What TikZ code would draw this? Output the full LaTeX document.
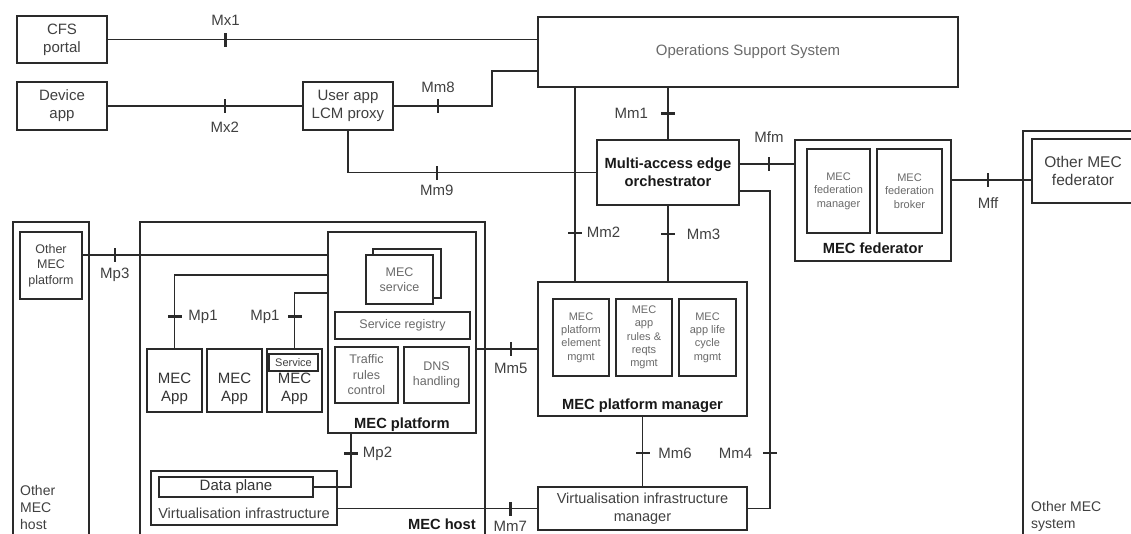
\documentclass[tikz,border=0pt]{standalone}
\usepackage{fontspec}
\setmainfont{Liberation Sans}
\usetikzlibrary{positioning}
\definecolor{ink}{HTML}{2A2A2A}
\definecolor{dtxt}{HTML}{404040}
\definecolor{ltxt}{HTML}{6A6A6A}
\begin{document}
\begin{tikzpicture}[x=1pt,y=-1pt,
    sz/.style 2 args={minimum width=#1pt,minimum height=#2pt},
    box/.style={draw=ink,line width=2.1pt,fill=white,inner sep=0pt,align=center,text=dtxt,font=\fontsize{15}{18}\selectfont},
    mbox/.style={box,text=ltxt,font=\fontsize{12.5}{15.5}\selectfont},
    sbox/.style={box,line width=2.4pt,text=ltxt,font=\fontsize{11}{13.3}\selectfont},
    hostbox/.style={draw=ink,line width=2.1pt,inner sep=0pt},
    hdr/.style={inner sep=0pt,text=black!90,font=\fontsize{14.7}{17}\selectfont\bfseries},
    lbl/.style={inner sep=1pt,text=dtxt,font=\fontsize{15}{18}\selectfont},
    tk/.style={fill=ink,inner sep=0pt,minimum width=2.4pt,minimum height=14pt,sloped},
    ln/.style={draw=ink,line width=1.9pt}]
\useasboundingbox (0,0) rectangle (1131,533);
\clip (0,0) rectangle (1131,533);
\node[box,sz={90}{47}] (cfs) at (62,39.5) {CFS\\portal};
\node[box,sz={90}{48}] (dev) at (62,106) {Device\\app};
\node[box,sz={90}{48}] (uap) at (348,106) {User app\\LCM proxy};
\node[box,sz={420}{70},text=ltxt] (oss) at (748,52) {Operations Support System};
\node[box,sz={142}{65},text=black!90,font=\fontsize{14.7}{18}\selectfont\bfseries] (meo) at (668,172.5) {Multi-access edge\\orchestrator};
\node[box,sz={156}{121}] (fed) at (873,200.5) {};
\node[sbox,sz={63}{84}] (fedm) at (838.5,191) {MEC\\federation\\manager};
\node[sbox,sz={65}{84}] (fedb) at (909.5,191) {MEC\\federation\\broker};
\node[hdr,above=8pt of fed.south] (fedt) {MEC federator};
\node[hostbox,sz={117}{420}] (oms) at (1081.5,341) {};
\node[box,sz={102}{64},font=\fontsize{15.5}{18}\selectfont] (omf) at (1083,171) {Other MEC\\federator};
\node[lbl,inner sep=0pt,align=left,anchor=north west,font=\fontsize{14}{17}\selectfont] (omst) at (1031,501) {Other MEC\\system};
\node[hostbox,sz={76}{330}] (omh) at (51,387) {};
\node[mbox,text=dtxt,sz={62}{67}] (omp) at (51,265.5) {Other\\MEC\\platform};
\node[lbl,inner sep=0pt,align=left,anchor=north west,font=\fontsize{14}{17}\selectfont] (omht) at (20,485) {Other\\MEC\\host};
\node[hostbox,sz={345}{330}] (host) at (312.5,387) {};
\node[hdr,anchor=east] (hostt) at (476,524.5) {MEC host};
\node[box,sz={148}{201}] (mp) at (402,332.5) {};
\node[box,line width=1.7pt,sz={68}{49}] (svcb) at (407,273.5) {};
\node[mbox,line width=1.7pt,sz={67}{49}] (svc) at (399.5,279.5) {MEC\\service};
\node[mbox,sz={135}{27}] (reg) at (402.5,325.5) {Service registry};
\node[mbox,sz={63}{56}] (trc) at (366.5,375) {Traffic\\rules\\control};
\node[mbox,sz={65}{56}] (dns) at (436.5,375) {DNS\\handling};
\node[hdr,above=2.7pt of mp.south] (mpt) {MEC platform};
\node[box,sz={55}{63},label={[lbl,text=black!80,align=center,yshift=-8.5pt]center:{MEC\\App}}] (app1) at (174.5,380.5) {};
\node[box,sz={55}{63},label={[lbl,text=black!80,align=center,yshift=-8.5pt]center:{MEC\\App}}] (app2) at (234.5,380.5) {};
\node[box,sz={55}{63},label={[lbl,text=black!80,align=center,yshift=-8.5pt]center:{MEC\\App}}] (app3) at (294.5,380.5) {};
\node[box,line width=2.5pt,sz={49}{17},font=\fontsize{11}{13}\selectfont] (srv) at (293.5,362.5) {Service};
\node[box,sz={186}{54}] (vinf) at (244,498) {};
\node[lbl,inner sep=0pt,font=\fontsize{14.5}{17}\selectfont] (vinft) at (244,513) {Virtualisation infrastructure};
\node[box,line width=2.5pt,sz={154}{20},text=black!80] (dp) at (236,487) {Data plane};
\node[box,sz={209}{134}] (pm) at (642.5,349) {};
\node[sbox,sz={56}{77}] (pme) at (581,337.5) {MEC\\platform\\element\\mgmt};
\node[sbox,sz={56}{77}] (pmr) at (644,337.5) {MEC\\app\\rules \&\\reqts\\mgmt};
\node[sbox,sz={57}{77}] (pml) at (707.5,337.5) {MEC\\app life\\cycle\\mgmt};
\node[hdr,above=4.7pt of pm.south] (pmt) {MEC platform manager};
\node[box,sz={209}{43},font=\fontsize{14.5}{18}\selectfont] (vim) at (642.5,508.5) {Virtualisation infrastructure\\manager};
\draw[ln] (cfs) -- node[tk,pos=.274] (t1) {} node[lbl,pos=.274,above=12pt] (mx1) {Mx1} (cfs -| oss.west);
\draw[ln] (dev) -- node[tk,pos=.602] (t2) {} node[lbl,pos=.602,below=14pt] (mx2) {Mx2} (uap);
\draw[ln] (uap.east) -- node[tk,pos=.45] (t3) {} node[lbl,pos=.45,above=11pt] (mm8) {Mm8} ++(98pt,0) |- ([yshift=-19pt]oss.west);
\draw[ln] (uap.south) |- node[tk,pos=.679] (t4) {} node[lbl,pos=.679,below=11pt] (mm9) {Mm9} (meo.west);
\draw[ln] (meo.north) -- node[tk,pos=.5] (t5) {} node[lbl,pos=.5,left=18pt] (mm1) {Mm1} (meo.north |- oss.south);
\draw[ln] ([xshift=-67.5pt]pm.north) -- node[tk,pos=.25] (t6) {} node[lbl,pos=.25,right=10pt] (mm2) {Mm2} ([xshift=-67.5pt]pm.north |- oss.south);
\draw[ln] (meo.south) -- node[tk,pos=.377] (t7) {} node[lbl,pos=.377,right=17pt] (mm3) {Mm3} (meo.south |- pm.north);
\draw[ln] ([yshift=-18.5pt]meo.east) -- ++(30pt,0) |- node[tk,pos=.413] (t8) {} node[lbl,pos=.413,left=16pt] (mm4) {Mm4} (vim.east);
\draw[ln] (pm.west) -- node[tk,pos=.435] (t9) {} node[lbl,pos=.435,below=12pt] (mm5) {Mm5} (pm.west -| mp.east);
\draw[ln] (pm) -- node[tk,pos=.52] (t10) {} node[lbl,pos=.52,right=14pt] (mm6) {Mm6} (vim);
\draw[ln] (vim.west) -- node[tk,pos=.134] (t11) {} node[lbl,pos=.134,below=11pt] (mm7) {Mm7} (vim.west -| vinf.east);
\draw[ln] ([yshift=10.5pt]omp.east) -- node[tk,pos=.13] (t12) {} node[lbl,pos=.13,below=11pt] (mp3) {Mp3} ([yshift=10.5pt]omp.east -| mp.west);
\draw[ln] (app1.north) |- node[tk,pos=.216] (t13) {} node[lbl,pos=.216,right=12pt] (mp1a) {Mp1} ([yshift=57.5pt]mp.west);
\draw[ln] (app3.north) |- node[tk,pos=.286] (t14) {} node[lbl,pos=.286,left=13pt] (mp1b) {Mp1} ([yshift=39.5pt]mp.west);
\draw[ln] ([xshift=-51pt]mp.south) |- node[tk,pos=.185] (t15) {} node[lbl,pos=.185,right=10pt] (mp2) {Mp2} (dp.east);
\draw[ln] ([yshift=8.5pt]meo.east) -- node[tk,pos=.536] (t16) {} node[lbl,pos=.536,above=20pt] (mfm) {Mfm} ([yshift=8.5pt]meo.east -| fed.west);
\draw[ln] ([yshift=-9pt]omf.west) -- node[tk,pos=.543] (t17) {} node[lbl,pos=.543,below=16pt] (mff) {Mff} ([yshift=-9pt]omf.west -| fed.east);
\end{tikzpicture}
\end{document}
